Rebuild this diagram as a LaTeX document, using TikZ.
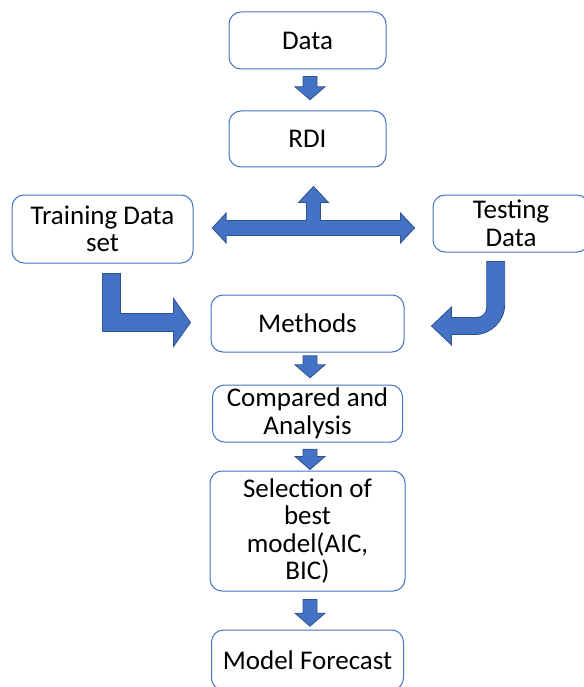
\documentclass[tikz,border=0pt]{standalone}
\usepackage{fontspec}
\setmainfont{Carlito}
\usepackage{xcolor}
\usepackage{tikz}
\usetikzlibrary{positioning, calc}

\definecolor{boxblue}{HTML}{4472C4}
\definecolor{arrowfill}{HTML}{4472C4}
\definecolor{arrowline}{HTML}{2F528F}

% block arrow pointing down, from the bottom of #1 to the top of #2
\newcommand{\blockdown}[4]{%
  \coordinate (s) at ($(#1.south)+(2.5,#3)$);
  \coordinate (e) at ($(#2.north -| s)+(0,-#4)$);
  \draw[blockarrow] ($(s)+(-7,0)$) -- ($(e)+(-7,-13)$) -- ($(e)+(-15,-13)$) -- (e) -- ($(e)+(15,-13)$) -- ($(e)+(7,-13)$) -- ($(s)+(7,0)$) -- cycle;
}

\begin{document}
\begin{tikzpicture}[x=1pt, y=-1pt,
        box/.style={draw=boxblue, line width=1pt, rectangle, rounded corners=12pt, align=center, inner sep=0pt, font=\fontsize{27}{27.5}\selectfont},
        blockarrow/.style={fill=arrowfill, draw=arrowline, line width=0.8pt, line join=miter}]
        \useasboundingbox (0,0) rectangle (583,687);

        % Main column
        \node (data) [box, minimum width=157pt, minimum height=57pt] at (307.5,40.5) {Data};
        \node (rdi) [box, minimum width=157pt, minimum height=56pt, below=41pt of data] {RDI};
        \node (methods) [box, minimum width=193pt, minimum height=57pt, below=127pt of rdi] {Methods};
        \node (compared) [box, minimum width=190pt, minimum height=57pt, below=32pt of methods] {Compared and\\Analysis};
        \node (select) [box, minimum width=195pt, minimum height=120pt, below=28pt of compared] {Selection of\\best\\model(AIC,\\BIC)};
        \node (forecast) [box, minimum width=192pt, minimum height=60pt, below=38pt of select] {Model Forecast};

        % Side boxes
        \node (train) [box, minimum width=181pt, minimum height=68pt] at (102.5,229) {Training Data\\set};
        \node (test) [box, minimum width=156pt, minimum height=57pt] at (511,223.5) {Testing\\Data};

        % Down arrows
        \blockdown{data}{rdi}{7}{10.7}
        \blockdown{methods}{compared}{3.3}{6.7}
        \blockdown{compared}{select}{6.7}{1}
        \blockdown{select}{forecast}{8}{3.3}

        % Split arrow from RDI
        \coordinate (tL) at ($(train.east)+(18.7,-1)$);
        \coordinate (tU) at ($(rdi.south)+(6,19)$);
        \coordinate (tR) at ($(tL -| test.west)+(-18,0)$);
        \coordinate (tC) at (tU |- tL);
        \draw[blockarrow] (tL) -- ($(tL)+(14,-15)$) -- ($(tL)+(14,-7.5)$) -- ($(tC)+(-7,-7.5)$) -- ($(tU)+(-7,16)$) -- ($(tU)+(-15,16)$) -- (tU)
            -- ($(tU)+(15,16)$) -- ($(tU)+(7,16)$) -- ($(tC)+(7,-7.5)$) -- ($(tR)+(-14,-7.5)$) -- ($(tR)+(-14,-15)$) -- (tR)
            -- ($(tR)+(-14,15)$) -- ($(tR)+(-14,7.5)$) -- ($(tL)+(14,7.5)$) -- ($(tL)+(14,15)$) -- cycle;

        % Bent arrow from training set
        \coordinate (lA) at ($(train.south)+(0,10)$);
        \coordinate (lT) at ($(methods.west)+(-20,-1)$);
        \coordinate (lC) at (lA |- lT);
        \draw[blockarrow] (lA) -- ($(lA)+(18,0)$) -- ($(lC)+(18,-9)$) -- ($(lT)+(-17,-9)$) -- ($(lT)+(-17,-24)$) -- (lT)
            -- ($(lT)+(-17,24)$) -- ($(lT)+(-17,9)$) -- ($(lC)+(0,9)$) -- cycle;

        % Curved arrow from testing data
        \coordinate (jA) at ($(test.south)+(-24.3,9)$);
        \coordinate (jT) at ($(methods.east)+(27,2.5)$);
        \coordinate (jC) at (jA |- jT);
        \coordinate (jO) at ($(jC)+(18,8.5)$);
        \coordinate (jI) at ($(jC)+(0,-8.5)$);
        \draw[blockarrow] (jA) -- ($(jA)+(18,0)$) -- ($(jO)+(0,-30)$) .. controls ($(jO)+(0,-13.5)$) and ($(jO)+(-13.5,0)$) .. ($(jO)+(-30,0)$)
            -- ($(jT)+(20,8.5)$) -- ($(jT)+(20,19)$) -- (jT) -- ($(jT)+(20,-19)$) -- ($(jT)+(20,-8.5)$)
            -- ($(jI)+(-10,0)$) .. controls ($(jI)+(-4.5,0)$) and ($(jI)+(0,-4.5)$) .. ($(jI)+(0,-10)$) -- cycle;
\end{tikzpicture}
\end{document}
